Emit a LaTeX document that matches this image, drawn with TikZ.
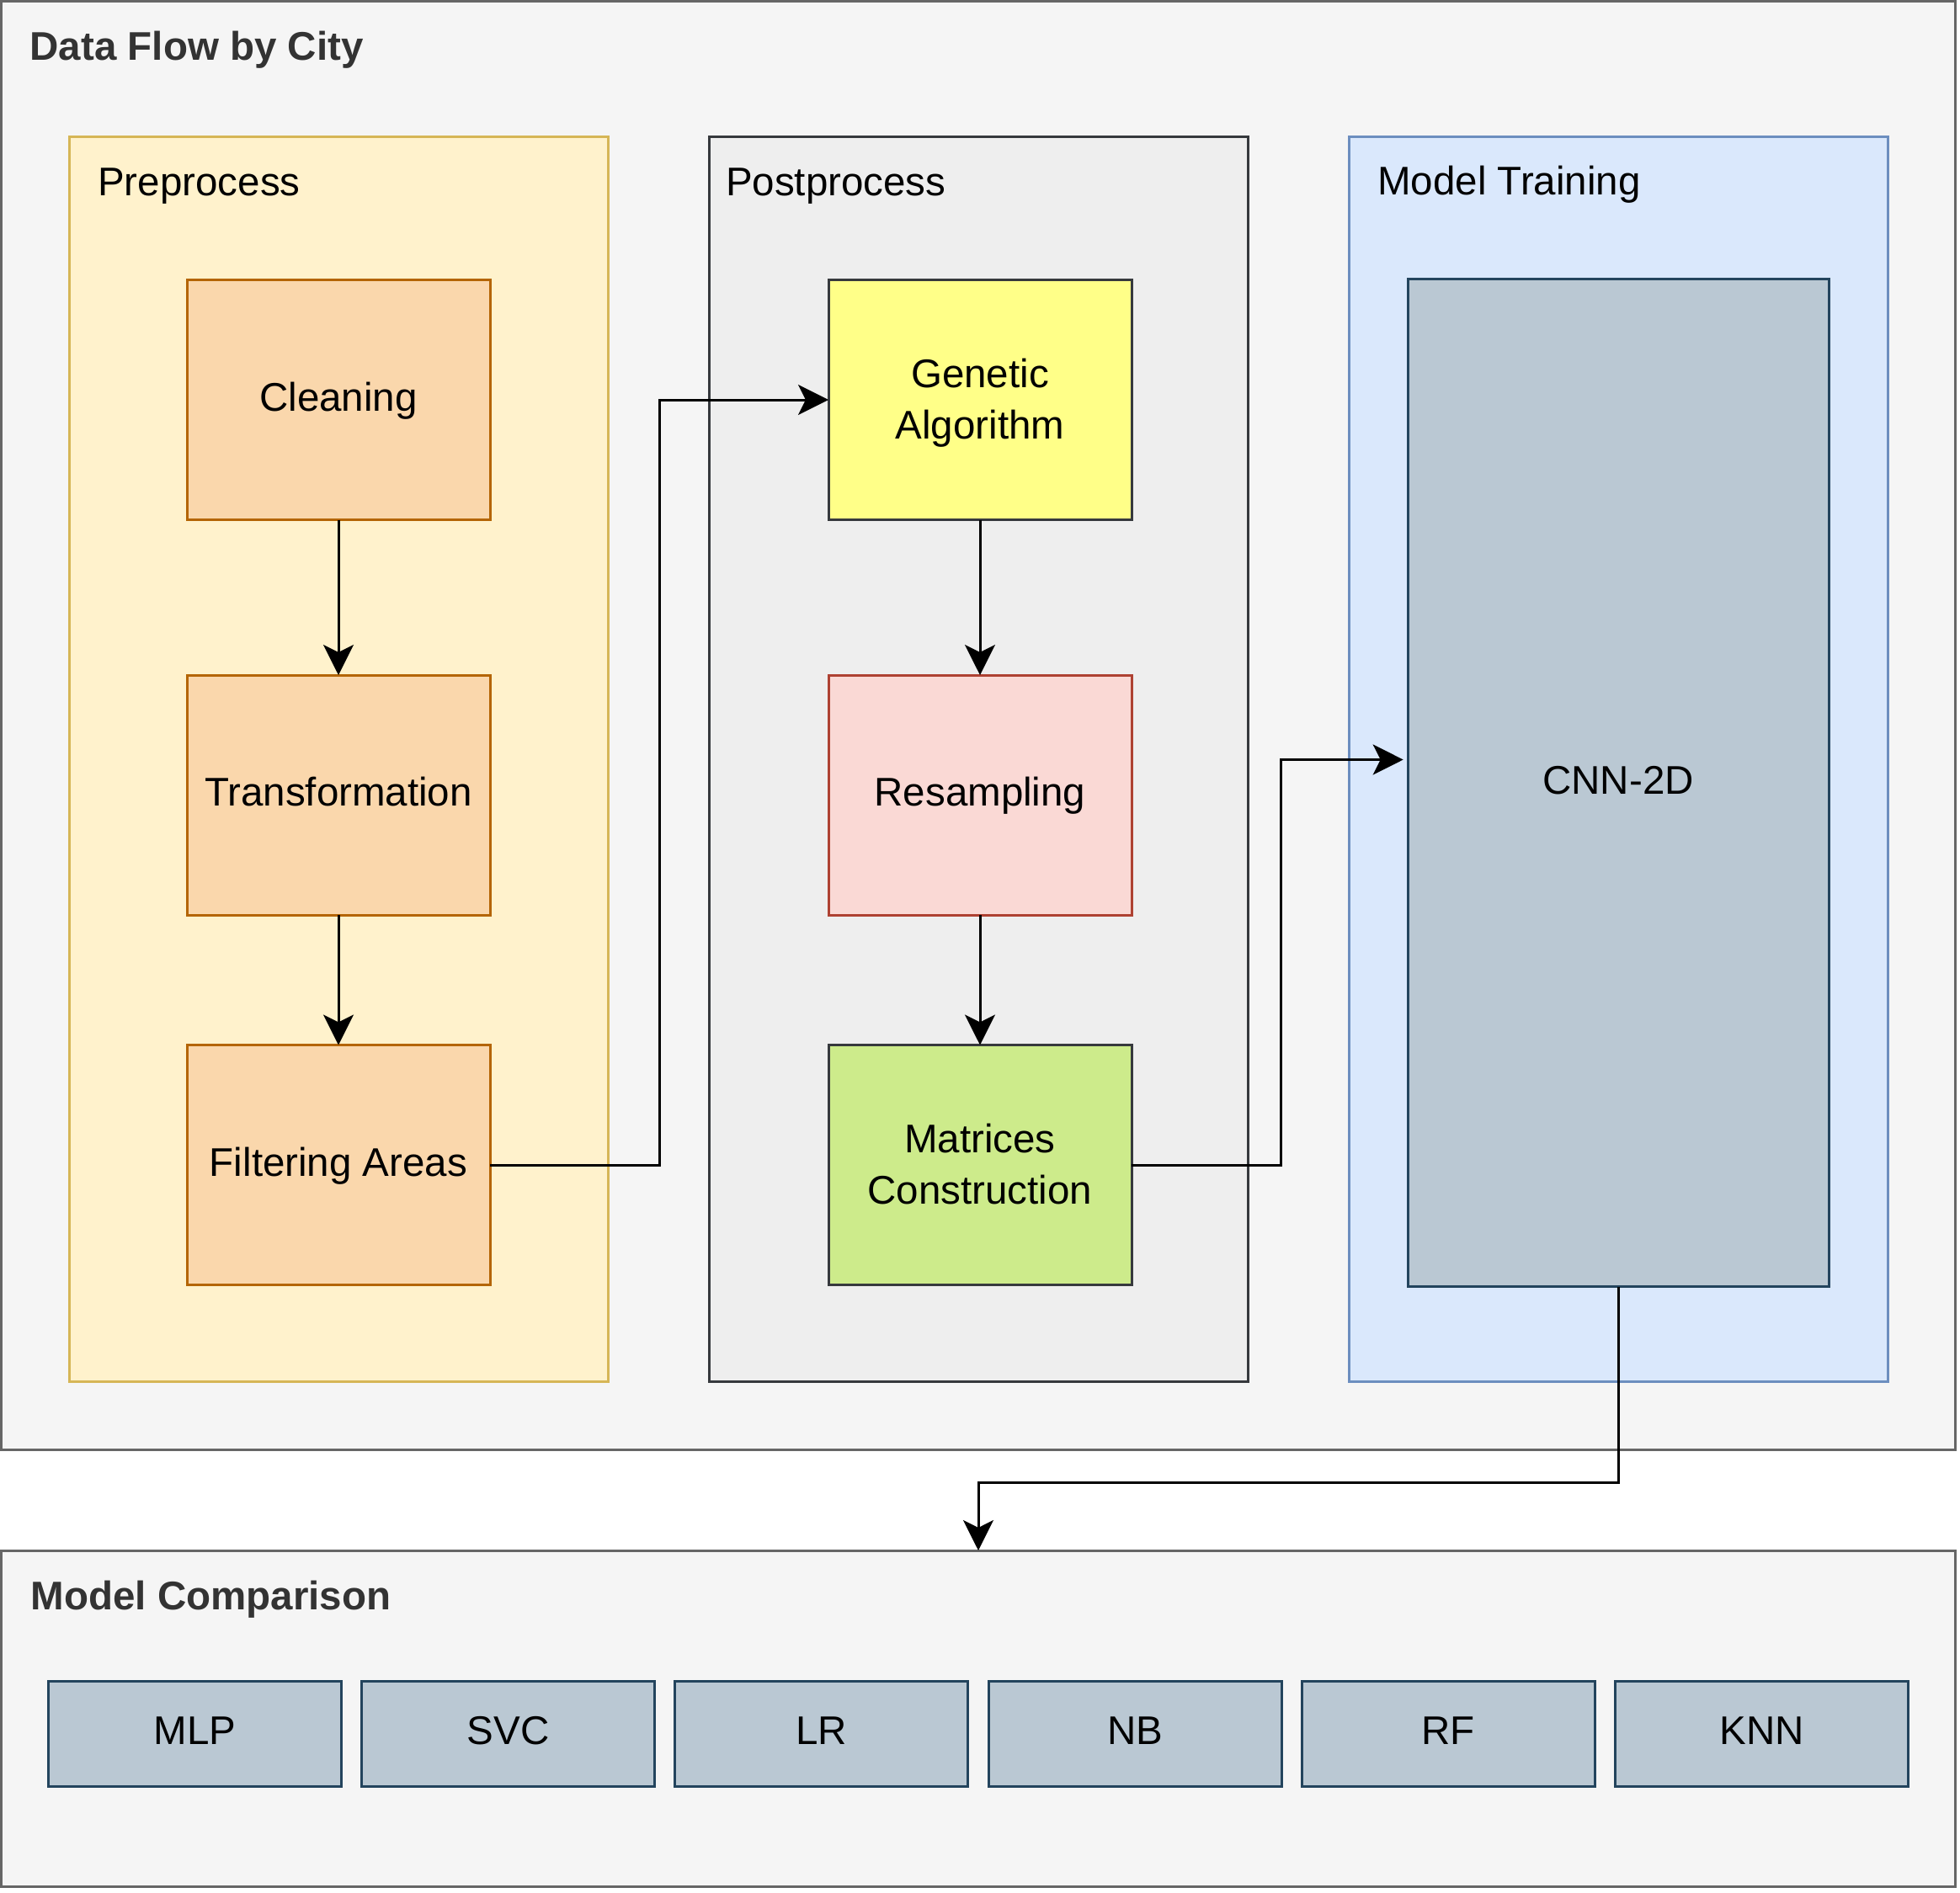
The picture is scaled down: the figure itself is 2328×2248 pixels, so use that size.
\documentclass[tikz,border=0pt]{standalone}
\usepackage{fontspec}
\setmainfont{Liberation Sans}
\usetikzlibrary{arrows.meta}
\definecolor{dfFill}{HTML}{F5F5F5}
\definecolor{dfLine}{HTML}{666666}
\definecolor{dfText}{HTML}{333333}
\definecolor{preFill}{HTML}{FFF2CC}
\definecolor{preLine}{HTML}{D6B656}
\definecolor{postFill}{HTML}{EEEEEE}
\definecolor{darkLine}{HTML}{36393D}
\definecolor{mtFill}{HTML}{DAE8FC}
\definecolor{mtLine}{HTML}{6C8EBF}
\definecolor{orFill}{HTML}{FAD7AC}
\definecolor{orLine}{HTML}{B46504}
\definecolor{yeFill}{HTML}{FFFF88}
\definecolor{rdFill}{HTML}{FAD9D5}
\definecolor{rdLine}{HTML}{AE4132}
\definecolor{grFill}{HTML}{CDEB8B}
\definecolor{blFill}{HTML}{BAC8D3}
\definecolor{blLine}{HTML}{23445D}
\newcommand\mystrutA{\rule[-5.2pt]{0pt}{23.4pt}}
\newcommand\mystrutB{\rule[-5.2pt]{0pt}{26.6pt}}
\begin{document}
\begin{tikzpicture}[x=0.5pt,y=-0.5pt,
  every node/.style={font=\fontsize{23.75pt}{30.5pt}\selectfont},
  rbox/.style={rectangle, draw, line width=1.5pt, inner sep=0pt, outer sep=0pt, align=center},
  stepbox/.style={rbox, minimum width=180pt, minimum height=142.5pt},
  model/.style={rbox, fill=blFill, draw=blLine, minimum width=174pt, minimum height=62.5pt},
  ttl/.style={anchor=base west, inner sep=0pt, outer sep=0pt},
  bttl/.style={ttl, font=\fontsize{23.75pt}{30.5pt}\selectfont\bfseries, text=dfText},
  arr/.style={line width=1.5pt, -{Stealth[length=18pt,width=18pt,inset=4.5pt]}}
]
\useasboundingbox (0,0) rectangle (2328,2248);
\fill[white] (0,0) rectangle (2328,2248);

% outer panels
\node[rbox, fill=dfFill, draw=dfLine, minimum width=1160.5pt, minimum height=860.25pt] (df) at (1162,861.75) {};
\node[rbox, fill=dfFill, draw=dfLine, minimum width=1160.5pt, minimum height=199.5pt] (mc) at (1162,2041.5) {};

% containers
\node[rbox, fill=preFill, draw=preLine, minimum width=320pt, minimum height=739.75pt] (pre) at (402,901.75) {};
\node[rbox, fill=postFill, draw=darkLine, minimum width=320pt, minimum height=739.75pt] (post) at (1162,901.75) {};
\node[rbox, fill=mtFill, draw=mtLine, minimum width=320pt, minimum height=739.75pt] (mt) at (1922,901.75) {};

% titles
\node[bttl] (tdf) at (35.7,71.4) {Data Flow by City};
\node[bttl] (tmc) at (36.7,1912) {Model Comparison};
\node[ttl] (tpre) at (116.3,232) {Preprocess};
\node[ttl] (tpost) at (862,232.5) {Postprocess};
\node[ttl] (tmt) at (1636.3,231) {Model Training};

% preprocess steps
\node[stepbox, fill=orFill, draw=orLine] (clean) at (402,475) {\mystrutA Cleaning};
\node[stepbox, fill=orFill, draw=orLine] (trans) at (402,944.5) {\mystrutA Transformation};
\node[stepbox, fill=orFill, draw=orLine] (filter) at (402,1384) {\mystrutA Filtering Areas};

% postprocess steps
\node[stepbox, fill=yeFill, draw=darkLine] (genetic) at (1164,475) {\mystrutB Genetic\\\mystrutA Algorithm};
\node[stepbox, fill=rdFill, draw=rdLine] (resamp) at (1164,944.5) {\mystrutA Resampling};
\node[stepbox, fill=grFill, draw=darkLine] (matrices) at (1164,1384) {\mystrutB Matrices\\\mystrutA Construction};

% model training
\node[rbox, fill=blFill, draw=blLine, minimum width=250pt, minimum height=598.5pt] (cnn) at (1922,930) {\mystrutA CNN-2D};

% model comparison
\node[model] (mlp) at (231.5,2059.5) {\mystrutA MLP};
\node[model] (svc) at (603.7,2059.5) {\mystrutA SVC};
\node[model] (lr) at (975.9,2059.5) {\mystrutA LR};
\node[model] (nb) at (1348.1,2059.5) {\mystrutA NB};
\node[model] (rf) at (1720.3,2059.5) {\mystrutA RF};
\node[model] (knn) at (2092.5,2059.5) {\mystrutA KNN};

% connectors
\draw[arr] (clean.south) -- (trans.north);
\draw[arr] (trans.south) -- (filter.north);
\draw[arr] (genetic.south) -- (resamp.north);
\draw[arr] (resamp.south) -- (matrices.north);
\draw[arr] (filter.east) -- ++(201,0) |- (genetic.west);
\draw[arr] (matrices.east) -- ++(177.5,0) |- ([xshift=-2.65pt,yshift=13.75pt]cnn.west);
\draw[arr] (cnn.south) -- ++(0,232.5) -| (mc.north);
\end{tikzpicture}
\end{document}
